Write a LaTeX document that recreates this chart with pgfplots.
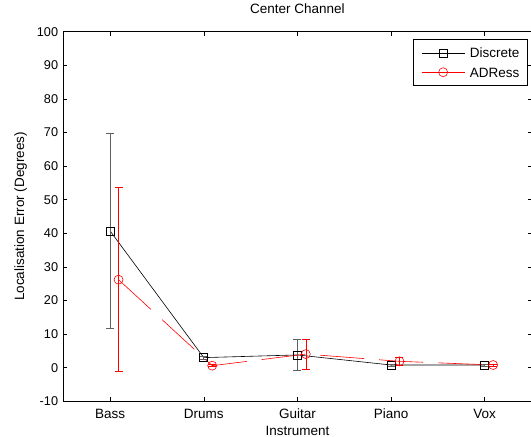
\documentclass[border=0pt]{standalone}
\usepackage{fontspec}
\setmainfont{Liberation Sans}
\usepackage{pgfplots}
\pgfplotsset{compat=1.18}
\newcommand{\fs}{\fontsize{12.7bp}{15bp}\selectfont}
\newcommand{\fl}{\fontsize{13.5bp}{16bp}\selectfont}
\begin{document}
\fs
\begin{tikzpicture}
\begin{axis}[
  scale only axis, width=468.2bp, height=369.6bp,
  xmin=0.5, xmax=5.5, ymin=-10, ymax=100,
  xtick={1,2,3,4,5}, xticklabels={Bass,Drums,Guitar,Piano,Vox},
  ytick={-10,0,10,20,30,40,50,60,70,80,90,100},
  /pgf/number format/assume math mode=true,
  tick align=inside, major tick length=4bp,
  tick style={black, line width=0.5bp},
  axis line style={black, line width=0.6bp},
  every tick label/.append style={font=\fs, inner sep=0pt},
  xticklabel style={anchor=base, yshift=-16.7bp, font=\fl},
  yticklabel style={anchor=east, xshift=-5bp},
  title={Center Channel},
  title style={at={(axis description cs:0.5,1.0336)}, anchor=base, inner sep=0pt, font=\fl},
  xlabel={Instrument},
  xlabel style={at={(axis description cs:0.5,-0.0915)}, anchor=base, inner sep=0pt, font=\fl},
  ylabel={Localisation Error (Degrees)},
  ylabel style={at={(axis description cs:-0.0839,0.5)}, anchor=base, rotate=0, inner sep=0pt, font=\fl},
  legend cell align=left,
  legend image code/.code={\draw[mark repeat=2,mark phase=2,#1] plot coordinates {(0bp,0bp) (21.5bp,0bp) (43bp,0bp)};},
  legend style={at={(axis description cs:0.99188,0.97944)}, anchor=north east,
    draw=black, line width=0.5bp, inner xsep=8bp, inner ysep=8.7bp,
    nodes={inner sep=0pt, font=\fl, text height=9.6bp, text depth=0pt},
    /tikz/column sep=5bp, /tikz/row sep=9.6bp},
]
\coordinate (sw) at (rel axis cs:0,0);
\coordinate (ne) at (rel axis cs:1,1);
\addplot[black, line width=0.6bp, mark=square, mark size=4bp,
  error bars/.cd, y dir=both, y explicit,
  error bar style={gray!75!black, line width=0.8bp},
  error mark options={rotate=90, mark size=4bp, gray!75!black, line width=0.8bp}]
  coordinates {
  (1,40.7) +- (0,29.1)
  (2,3.0) +- (0,0.5)
  (3,3.8) +- (0,4.6)
  (4,0.8) +- (0,0.3)
  (5,0.8) +- (0,0.3)
  };
\addlegendentry{Discrete}
\addplot[red, line width=0.6bp, dash pattern=on 44bp off 15bp, mark=o, mark size=4.5bp, mark options={solid},
  error bars/.cd, y dir=both, y explicit,
  error bar style={red, solid, line width=0.6bp},
  error mark options={rotate=90, mark size=4bp, red, solid, line width=0.6bp}]
  coordinates {
  (1.09,26.2) +- (0,27.4)
  (2.09,0.6) +- (0,0.3)
  (3.09,4.05) +- (0,4.45)
  (4.09,1.9) +- (0,1.2)
  (5.09,0.8) +- (0,0.3)
  };
\addlegendentry{ADRess}
\end{axis}
\pgfresetboundingbox
\path ([shift={(-63.3bp,-35.7bp)}]sw) rectangle ([shift={(-0.5bp,31.7bp)}]ne);
\end{tikzpicture}
\end{document}
